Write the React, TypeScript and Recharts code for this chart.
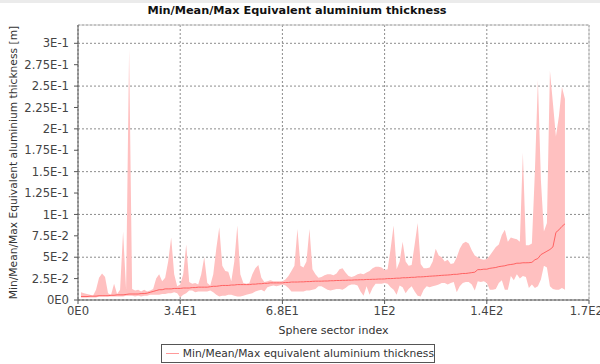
import React from "react";
import {
  ComposedChart,
  Area,
  Line,
  XAxis,
  YAxis,
  CartesianGrid,
  ReferenceLine,
} from "recharts";

// sector index, min / mean / max equivalent Al thickness [m]
const sectorIndex = [
  1, 2, 3, 4, 5, 6, 7, 8, 9, 10, 11, 12, 13, 14, 15, 16, 17, 18, 19, 20,
  21, 22, 23, 24, 25, 26, 27, 28, 29, 30, 31, 32, 33, 34, 35, 36, 37, 38, 39, 40,
  41, 42, 43, 44, 45, 46, 47, 48, 49, 50, 51, 52, 53, 54, 55, 56, 57, 58, 59, 60,
  61, 62, 63, 64, 65, 66, 67, 68, 69, 70, 71, 72, 73, 74, 75, 76, 77, 78, 79, 80,
  81, 82, 83, 84, 85, 86, 87, 88, 89, 90, 91, 92, 93, 94, 95, 96, 97, 98, 99, 100,
  101, 102, 103, 104, 105, 106, 107, 108, 109, 110, 111, 112, 113, 114, 115, 116, 117, 118, 119, 120,
  121, 122, 123, 124, 125, 126, 127, 128, 129, 130, 131, 132, 133, 134, 135, 136, 137, 138, 139, 140,
  141, 142, 143, 144, 145, 146, 147, 148, 149, 150, 151, 152, 153, 154, 155, 156, 157, 158, 159, 160,
  161, 162,
];

const minThickness = [
  0.003, 0.003, 0.003, 0.003, 0.003, 0.003, 0.004, 0.004, 0.004, 0.004, 0.004, 0.004, 0.004, 0.004, 0.004, 0.005, 0.005, 0.005, 0.004, 0.005,
  0.004, 0.005, 0.005, 0.006, 0.006, 0.006, 0.006, 0.007, 0.007, 0.008, 0.008, 0.009, 0.008, 0.003, 0.006, 0.008, 0.011, 0.011, 0.009, 0.01,
  0.01, 0.01, 0.01, 0.011, 0.009, 0.006, 0.004, 0.005, 0.005, 0.006, 0.006, 0.005, 0.004, 0.004, 0.005, 0.006, 0.007, 0.008, 0.01, 0.011,
  0.012, 0.01, 0.015, 0.016, 0.017, 0.016, 0.017, 0.018, 0.017, 0.014, 0.01, 0.01, 0.01, 0.01, 0.01, 0.011, 0.011, 0.012, 0.013, 0.016,
  0.016, 0.014, 0.012, 0.011, 0.012, 0.013, 0.013, 0.012, 0.014, 0.017, 0.018, 0.018, 0.017, 0.01, 0.005, 0.016, 0.006, 0.014, 0.019, 0.019,
  0.019, 0.02, 0.019, 0.015, 0.012, 0.006, 0.017, 0.015, 0.008, 0.013, 0.016, 0.01, 0.005, 0.004, 0.012, 0.016, 0.015, 0.016, 0.017, 0.018,
  0.02, 0.02, 0.018, 0.02, 0.021, 0.009, 0.016, 0.02, 0.021, 0.021, 0.018, 0.011, 0.022, 0.021, 0.022, 0.02, 0.012, 0.012, 0.013, 0.02,
  0.023, 0.012, 0.012, 0.028, 0.023, 0.03, 0.025, 0.028, 0.027, 0.014, 0.018, 0.014, 0.016, 0.024, 0.04, 0.038, 0.016, 0.013, 0.012, 0.012,
  0.014, 0.012,
];

const meanThickness = [
  0.004, 0.004, 0.004, 0.0045, 0.0045, 0.0045, 0.005, 0.005, 0.005, 0.005, 0.0055, 0.0055, 0.006, 0.006, 0.006, 0.0065, 0.007, 0.007, 0.007, 0.007,
  0.0075, 0.0075, 0.008, 0.009, 0.01, 0.011, 0.012, 0.012, 0.013, 0.013, 0.013, 0.0135, 0.0135, 0.0135, 0.014, 0.014, 0.014, 0.0145, 0.0145, 0.015,
  0.015, 0.015, 0.015, 0.0155, 0.016, 0.016, 0.0165, 0.017, 0.017, 0.017, 0.0175, 0.0175, 0.018, 0.018, 0.018, 0.018, 0.018, 0.0185, 0.0185, 0.019,
  0.019, 0.0195, 0.0195, 0.02, 0.02, 0.02, 0.02, 0.02, 0.0205, 0.0205, 0.021, 0.021, 0.021, 0.0212, 0.0212, 0.0215, 0.0215, 0.0218, 0.022, 0.022,
  0.022, 0.0222, 0.0222, 0.0225, 0.0225, 0.0228, 0.0228, 0.023, 0.023, 0.0232, 0.0232, 0.0235, 0.0235, 0.0237, 0.0237, 0.024, 0.024, 0.0242, 0.0242, 0.0245,
  0.0245, 0.0246, 0.025, 0.025, 0.0252, 0.0255, 0.0255, 0.026, 0.026, 0.0262, 0.0265, 0.0265, 0.027, 0.027, 0.0272, 0.0275, 0.0278, 0.028, 0.0282, 0.0285,
  0.0288, 0.029, 0.0292, 0.0295, 0.03, 0.03, 0.0305, 0.031, 0.031, 0.0315, 0.032, 0.0325, 0.0355, 0.0355, 0.036, 0.036, 0.037, 0.0375, 0.038, 0.039,
  0.0395, 0.04, 0.041, 0.0415, 0.042, 0.043, 0.043, 0.0435, 0.0435, 0.0436, 0.044, 0.047, 0.0485, 0.053, 0.055, 0.057, 0.059, 0.062, 0.079, 0.082,
  0.086, 0.089,
];

const maxThickness = [
  0.009, 0.008, 0.007, 0.006, 0.005, 0.012, 0.026, 0.031, 0.027, 0.008, 0.006, 0.019, 0.007, 0.012, 0.08, 0.012, 0.293, 0.013, 0.011, 0.012,
  0.01, 0.012, 0.01, 0.011, 0.013, 0.025, 0.03, 0.022, 0.026, 0.045, 0.073, 0.03, 0.016, 0.018, 0.03, 0.065, 0.021, 0.019, 0.02, 0.018,
  0.03, 0.05, 0.02, 0.017, 0.03, 0.06, 0.085, 0.04, 0.034, 0.033, 0.022, 0.045, 0.087, 0.03, 0.02, 0.019, 0.02, 0.03, 0.037, 0.041,
  0.026, 0.021, 0.022, 0.023, 0.022, 0.022, 0.022, 0.022, 0.024, 0.028, 0.034, 0.04, 0.083, 0.04, 0.038, 0.045, 0.083, 0.036, 0.03, 0.026,
  0.027, 0.029, 0.03, 0.03, 0.029, 0.031, 0.036, 0.037, 0.032, 0.028, 0.027, 0.028, 0.03, 0.031, 0.03, 0.032, 0.034, 0.037, 0.039, 0.039,
  0.038, 0.035, 0.036, 0.06, 0.087, 0.036, 0.045, 0.068, 0.045, 0.04, 0.041, 0.065, 0.09, 0.042, 0.037, 0.037, 0.038, 0.045, 0.06, 0.052,
  0.05, 0.045, 0.047, 0.042, 0.043, 0.05, 0.06, 0.066, 0.068, 0.066, 0.058, 0.052, 0.05, 0.048, 0.047, 0.048, 0.052, 0.057, 0.062, 0.065,
  0.076, 0.082, 0.068, 0.073, 0.072, 0.071, 0.068, 0.172, 0.064, 0.064, 0.066, 0.15, 0.257, 0.14, 0.08, 0.09, 0.268, 0.23, 0.191, 0.215,
  0.249, 0.235,
];

const xTicks = [0, 34, 68, 102, 136, 170];
const xTickLabels = ["0E0", "3.4E1", "6.8E1", "1E2", "1.4E2", "1.7E2"];
const yTicks = [0, 0.025, 0.05, 0.075, 0.1, 0.125, 0.15, 0.175, 0.2, 0.225, 0.25, 0.275, 0.3];
const yTickLabels = [
  "0E0", "2.5E-2", "5E-2", "7.5E-2", "1E-1", "1.25E-1", "1.5E-1",
  "1.75E-1", "2E-1", "2.25E-1", "2.5E-1", "2.75E-1", "3E-1",
];

const TITLE = "Min/Mean/Max Equivalent aluminium thickness";
const Y_LABEL = "Min/Mean/Max Equivalent aluminium thickness [m]";
const X_LABEL = "Sphere sector index";
const SERIES_NAME = "Min/Mean/Max equivalent aluminium thickness";

const FONT = "'DejaVu Sans', sans-serif";
const BAND = "#ffc0c0";
const LINE = "#ff6262";
const Y_MAX = 0.3214;

const data = sectorIndex.map((idx, i) => ({
  idx,
  range: [minThickness[i], maxThickness[i]],
  mean: meanThickness[i],
}));

const YLabel = (props: any) => {
  const vb = props.viewBox;
  const cy = vb.y + vb.height / 2;
  return (
    <text
      x={13}
      y={cy}
      transform={`rotate(-90, 13, ${cy})`}
      textAnchor="middle"
      dominantBaseline="central"
      fontFamily={FONT}
      fontSize={10.7}
      fill="#333"
    >
      {Y_LABEL}
    </text>
  );
};

const XLabel = (props: any) => {
  const vb = props.viewBox;
  return (
    <text
      x={vb.x + vb.width / 2}
      y={330}
      textAnchor="middle"
      dominantBaseline="central"
      fontFamily={FONT}
      fontSize={11}
      fill="#333"
    >
      {X_LABEL}
    </text>
  );
};

export default function App() {
  const tickStyle = { fontFamily: FONT, fontSize: 11.6, fill: "#444" };
  return (
    <div style={{ position: "absolute", left: 0, top: 0, width: 600, height: 364, background: "#fff" }}>
      <div style={{ position: "absolute", left: 0, top: 0, width: 600, height: 3, background: "#ebebeb" }} />
      <div
        style={{
          position: "absolute",
          left: 0,
          top: 4,
          width: 594,
          textAlign: "center",
          fontFamily: FONT,
          fontSize: 11.3,
          fontWeight: "bold",
          lineHeight: "14px",
          color: "#111",
        }}
      >
        {TITLE}
      </div>
      <ComposedChart
        width={600}
        height={364}
        data={data}
        margin={{ top: 25, right: 11, bottom: 24, left: 0 }}
      >
        <CartesianGrid stroke="#8c8c8c" strokeDasharray="2 2" strokeWidth={1} />
        <XAxis
          dataKey="idx"
          type="number"
          domain={[0, 170]}
          ticks={xTicks}
          tickFormatter={(v: number) => xTickLabels[xTicks.indexOf(v)]}
          height={40}
          tick={tickStyle}
          tickSize={4}
          tickMargin={3}
          stroke="#555"
          label={XLabel}
          allowDataOverflow
        />
        <YAxis
          type="number"
          domain={[0, Y_MAX]}
          ticks={yTicks}
          tickFormatter={(v: number) => yTickLabels[yTicks.indexOf(v)]}
          width={78}
          tick={tickStyle}
          tickSize={4}
          tickMargin={5}
          stroke="#555"
          label={YLabel}
          allowDataOverflow
        />
        <ReferenceLine y={Y_MAX} stroke="#c4c4c4" strokeDasharray="0" />
        <ReferenceLine x={170} stroke="#c4c4c4" strokeDasharray="0" />
        <Area
          type="linear"
          dataKey="range"
          stroke="none"
          fill={BAND}
          fillOpacity={1}
          isAnimationActive={false}
        />
        <Line
          type="linear"
          dataKey="mean"
          stroke={LINE}
          strokeWidth={1}
          dot={false}
          isAnimationActive={false}
        />
      </ComposedChart>
      <div
        style={{
          position: "absolute",
          left: 161,
          top: 344,
          width: 272,
          height: 17,
          border: "1px solid #555",
          display: "flex",
          alignItems: "center",
          fontFamily: FONT,
          fontSize: 10.7,
          color: "#333",
          whiteSpace: "nowrap",
        }}
      >
        <span style={{ display: "inline-block", width: 13, height: 1.5, background: "#ff9a9a", margin: "0 4px 0 4px" }} />
        {SERIES_NAME}
      </div>
    </div>
  );
}
